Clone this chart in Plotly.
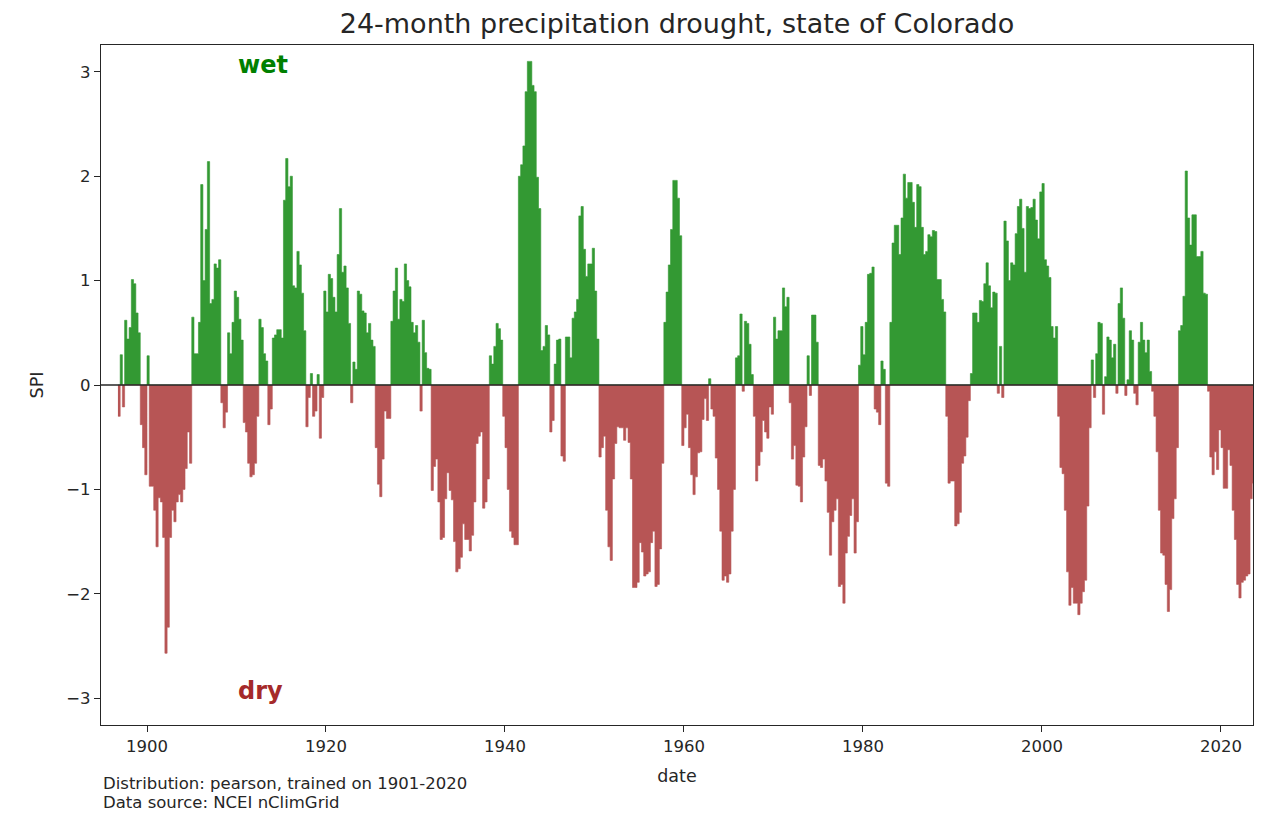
import pandas as pd
import plotly.graph_objects as go

# Quarterly 24-month SPI for Colorado, one list per decade (first value: Oct 1896)
spi_1890s = [-0.30, 0.29, -0.21, 0.62, 0.44, 0.55, 1.01, 0.97, 0.69, 0.50, -0.38, -0.60, -0.86]
spi_1900s = [0.28, -0.97, -0.97, -1.20, -1.55, -1.08, -1.12, -1.46, -2.57, -2.32,
             -1.46, -1.20, -1.31, -1.12, -1.05, -1.12, -1.00, -0.80, -0.45, -0.75,
             0.65, 0.30, 0.30, 0.60, 1.92, 1.00, 1.49, 2.14, 0.78, 0.82,
             1.16, 1.12, 1.20, -0.17, -0.41, -0.26, 0.50, 0.30, 0.60, 0.90]
spi_1910s = [0.84, 0.63, 0.43, -0.36, -0.45, -0.75, -0.88, -0.86, -0.75, -0.30,
             0.63, 0.55, 0.30, 0.23, -0.38, -0.23, 0.45, 0.48, 0.53, 0.53,
             0.45, 1.77, 2.17, 1.90, 2.00, 0.95, 0.93, 1.28, 1.15, 0.88,
             0.52, -0.40, -0.12, 0.11, -0.30, -0.25, 0.10, -0.51, -0.12, 0.90]
spi_1920s = [0.70, 1.06, 1.02, 0.84, 0.70, 1.25, 1.69, 1.08, 1.14, 0.93,
             0.59, -0.17, 0.22, 0.15, 0.90, 0.87, 0.71, 0.69, 0.50, 0.59,
             0.43, 0.37, -0.60, -0.95, -1.07, -0.71, -0.25, -0.32, -0.32, 0.61,
             0.90, 1.12, 0.63, 0.82, 0.80, 1.16, 1.00, 0.94, 0.60, 0.50]
spi_1930s = [0.57, 0.41, -0.25, 0.62, 0.31, 0.16, 0.15, -1.01, -0.78, -0.71,
             -1.12, -1.48, -1.46, -1.09, -0.84, -1.01, -1.10, -1.50, -1.79, -1.76,
             -1.65, -1.33, -1.48, -1.48, -1.59, -1.44, -1.12, -0.56, -0.49, -0.45,
             -1.18, -1.12, -0.90, 0.28, 0.20, 0.37, 0.59, 0.54, 0.43, -0.30]
spi_1940s = [-0.60, -1.00, -1.40, -1.46, -1.53, -1.53, 2.00, 2.11, 2.29, 2.81,
             3.10, 3.10, 2.87, 2.81, 1.99, 1.69, 0.33, 0.37, 0.57, 0.48,
             -0.45, -0.34, 0.20, 0.43, 0.44, -0.68, -0.73, 0.46, 0.46, 0.26,
             0.64, 0.70, 0.82, 1.62, 1.71, 1.30, 1.04, 1.16, 1.16, 1.31]
spi_1950s = [0.90, 0.44, -0.69, -0.60, -0.49, -1.20, -1.55, -1.68, -0.90, -0.56,
             -0.40, -0.41, -0.41, -0.53, -0.41, -0.55, -0.90, -1.94, -1.94, -1.89,
             -1.51, -1.60, -1.83, -1.81, -1.79, -1.51, -1.40, -1.93, -1.91, -1.57,
             -0.75, 0.60, 0.89, 1.15, 1.49, 1.96, 1.96, 1.79, 1.43, -0.58]
spi_1960s = [-0.41, -0.28, -0.60, -0.86, -1.05, -0.88, -0.65, -0.64, -0.33, -0.13,
             -0.34, 0.06, -0.23, -0.30, -0.70, -1.00, -1.40, -1.87, -1.83, -1.89,
             -1.81, -1.40, -1.00, 0.26, 0.28, 0.68, -0.06, 0.61, 0.59, 0.39,
             0.10, -0.30, -0.92, -0.77, -0.64, -0.34, -0.45, -0.51, -0.21, -0.28]
spi_1970s = [0.65, 0.44, 0.52, 0.52, 0.93, 0.75, 0.84, -0.17, -0.71, -0.58,
             -0.96, -0.97, -1.12, -0.69, -0.40, 0.28, -0.10, 0.67, 0.67, 0.41,
             -0.77, -0.79, -0.71, -0.92, -1.22, -1.63, -1.31, -1.20, -1.09, -1.93,
             -1.91, -2.09, -1.61, -1.45, -1.25, -1.09, -1.61, -1.31, 0.19, 0.56]
spi_1980s = [0.29, 0.60, 1.06, 1.07, 1.13, -0.23, -0.26, -0.38, 0.23, 0.15,
             -0.94, -0.97, 0.60, 1.36, 1.53, 1.53, 1.25, 1.60, 2.02, 1.79,
             1.94, 1.94, 1.75, 1.51, 1.92, 1.90, 1.51, 1.25, 1.28, 1.44,
             1.42, 1.48, 1.47, 1.01, 1.01, 0.82, 0.70, -0.30, -0.94, -0.92]
spi_1990s = [-0.92, -1.35, -1.33, -1.22, -0.75, -0.68, -0.50, -0.15, 0.11, 0.69,
             0.69, 0.60, 0.81, 0.80, 0.97, 1.17, 0.95, 0.74, 0.89, 0.88,
             -0.08, 0.37, -0.12, 1.57, 1.38, 1.00, 1.17, 1.15, 1.45, 1.71,
             1.78, 1.50, 1.08, 1.71, 1.69, 1.70, 1.78, 1.58, 1.40, 1.85]
spi_2000s = [1.93, 1.20, 1.14, 1.03, 0.56, 0.45, 0.56, -0.30, -0.79, -0.85,
             -1.20, -1.79, -2.11, -1.94, -2.09, -2.09, -2.20, -2.09, -1.98, -1.87,
             -1.16, -0.41, 0.24, -0.12, 0.30, 0.60, 0.59, -0.28, 0.08, 0.46,
             0.43, 0.26, 0.39, -0.08, 0.78, 0.93, 0.64, -0.10, 0.05, 0.52]
spi_2010s = [0.43, -0.08, -0.19, 0.41, 0.60, 0.43, 0.31, 0.43, 0.13, -0.06,
             -0.30, -0.64, -1.20, -1.61, -1.63, -1.91, -2.17, -1.96, -1.28, -1.09,
             -0.60, 0.52, 0.57, 0.85, 2.05, 1.60, 1.34, 1.63, 1.63, 1.23,
             1.23, 1.28, 0.88, 0.87, -0.06, -0.69, -0.86, -0.64, -0.81, -0.43]
spi_2020s = [-0.60, -0.99, -0.99, -0.62, -0.77, -1.20, -1.48, -1.91, -2.04, -1.89,
             -1.87, -1.83, -1.81, -1.09, -0.94]

year_ticks = [1900, 1920, 1940, 1960, 1980, 2000, 2020]
spi_ticks = [-3, -2, -1, 0, 1, 2, 3]

spi = (spi_1890s + spi_1900s + spi_1910s + spi_1920s + spi_1930s + spi_1940s
       + spi_1950s + spi_1960s + spi_1970s + spi_1980s + spi_1990s + spi_2000s
       + spi_2010s + spi_2020s)
# one extra edge date closes the last step
edges = pd.date_range("1896-10-01", periods=len(spi) + 1, freq="QS-JAN")

WET = "rgb(51,153,51)"
DRY = "rgb(183,85,85)"
INK = "#262626"
FONT = "DejaVu Sans"

wet_part = [max(v, 0.0) for v in spi]
dry_part = [min(v, 0.0) for v in spi]

fig = go.Figure()
for part, color, name in ((wet_part, WET, "wet"), (dry_part, DRY, "dry")):
    fig.add_trace(go.Scatter(
        x=edges, y=part + [part[-1]], mode="lines", line_shape="hv",
        line=dict(width=0.6, color=color), fill="tozeroy", fillcolor=color,
        name=name, showlegend=False, hoverinfo="x+y",
    ))

fig.add_shape(type="line", xref="paper", yref="y", x0=0, x1=1, y0=0, y1=0,
              line=dict(color=INK, width=1.6), layer="above")

fig.add_annotation(x="1912-12-15", y=3.07, xref="x", yref="y", text="<b>wet</b>",
                   showarrow=False, font=dict(family=FONT, size=24, color="#008000"))
fig.add_annotation(x="1912-09-01", y=-2.93, xref="x", yref="y", text="<b>dry</b>",
                   showarrow=False, font=dict(family=FONT, size=24, color="#a52a2a"))
for text, ypix in (("Distribution: pearson, trained on 1901-2020", 784),
                   ("Data source: NCEI nClimGrid", 802)):
    fig.add_annotation(x=0.0, y=-(ypix - 725) / 680, xref="paper", yref="paper",
                       xanchor="left", yanchor="middle", align="left", showarrow=False,
                       text=text, font=dict(family=FONT, size=16.5, color=INK))

axis_common = dict(showline=True, linecolor=INK, linewidth=1.3, mirror=True,
                   ticks="outside", ticklen=6, tickwidth=1.3, tickcolor=INK,
                   showgrid=False, zeroline=False,
                   tickfont=dict(family=FONT, size=16.5, color=INK))

fig.update_layout(
    width=1284, height=816,
    margin=dict(l=101, r=31, t=45, b=91),
    paper_bgcolor="white", plot_bgcolor="white",
    title=dict(text="24-month precipitation drought, state of Colorado",
               x=0.5, xref="paper", xanchor="center", y=1 - 24 / 816, yanchor="middle",
               font=dict(family=FONT, size=27, color=INK)),
    xaxis=dict(axis_common, type="date", range=["1894-11-10", "2023-07-31"],
               tickvals=[f"{y}-01-01" for y in year_ticks],
               ticktext=[str(y) for y in year_ticks],
               title=dict(text="date", font=dict(family=FONT, size=17.5, color=INK), standoff=14)),
    yaxis=dict(axis_common, range=[-3.257, 3.257],
               tickvals=spi_ticks,
               ticktext=[str(t).replace("-", "\u2212") for t in spi_ticks],
               title=dict(text="SPI", font=dict(family=FONT, size=17.5, color=INK), standoff=18)),
)

fig.write_html("out.html")
